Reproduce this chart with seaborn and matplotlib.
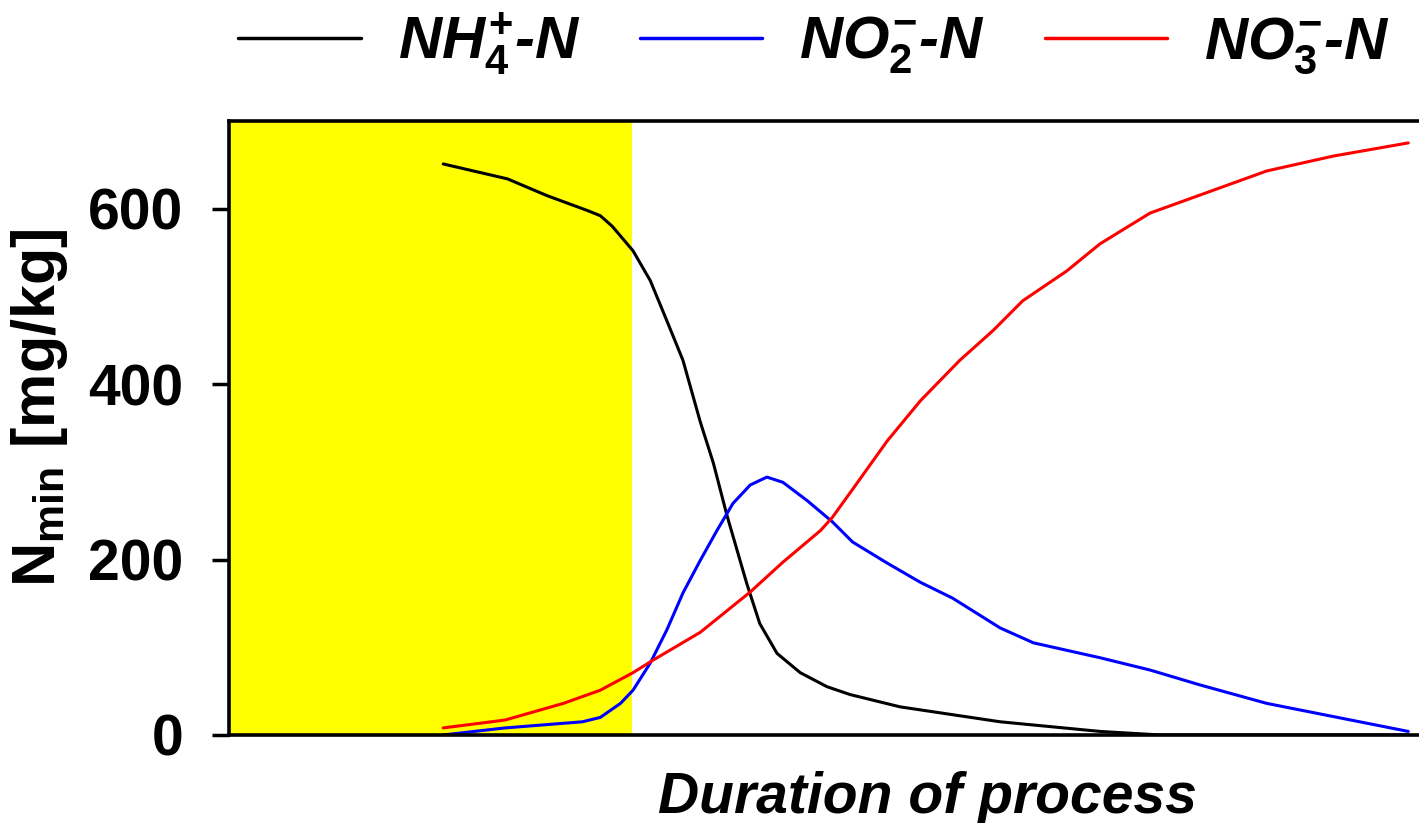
import pandas as pd
import matplotlib.pyplot as plt
import seaborn as sns

# Datos (duración en unidades relativas 0-100).
x_nh4 = [18.0, 23.4, 26.7, 30.1, 31.2, 32.2, 33.95, 35.4, 36.8, 38.15, 39.6, 40.7, 41.85, 43.5, 44.6, 46.05, 48.0, 50.25, 52.2, 56.4, 64.8, 73.2, 78.2, 99.1]
y_nh4 = [651, 634, 615, 598, 592, 580, 552, 518, 472, 427, 357, 310, 250, 173, 127, 93, 71, 55, 46, 32, 15, 4, 0, 0]

x_no2 = [18.0, 23.2, 29.7, 31.2, 32.9, 33.95, 35.4, 36.8, 38.15, 39.6, 41.0, 42.35, 43.8, 45.2, 46.55, 48.6, 50.7, 52.4, 55.3, 58.1, 60.8, 64.8, 67.6, 73.2, 77.4, 81.6, 87.2, 99.1]
y_no2 = [0, 8, 15, 20, 36, 51, 82, 120, 162, 199, 233, 264, 285, 294, 288, 267, 243, 220, 196, 174, 156, 122, 105, 88, 74, 57, 36, 4]

x_no3 = [18.0, 23.2, 28.1, 31.2, 33.95, 35.6, 39.6, 43.8, 46.55, 49.7, 50.7, 52.4, 55.3, 58.1, 61.4, 64.2, 66.7, 70.4, 73.2, 77.4, 87.2, 92.8, 99.1]
y_no3 = [8, 17, 36, 51, 71, 85, 117, 163, 197, 233, 248, 280, 335, 381, 427, 461, 495, 529, 560, 595, 643, 660, 675]

series = [r'$NH_4^{+}$-N', r'$NO_2^{-}$-N', r'$NO_3^{-}$-N']
colores = ['black', '#0000ff', '#ff0000']
fase_inicial = (0, 33.9)

df = pd.concat([
    pd.DataFrame({'t': x_nh4, 'v': y_nh4, 'serie': series[0]}),
    pd.DataFrame({'t': x_no2, 'v': y_no2, 'serie': series[1]}),
    pd.DataFrame({'t': x_no3, 'v': y_no3, 'serie': series[2]}),
])

sns.set_theme(style='white')
plt.rcParams['font.family'] = ['Liberation Sans', 'DejaVu Sans']
plt.rcParams['font.weight'] = 'bold'
plt.rcParams['text.color'] = 'black'
plt.rcParams['axes.labelcolor'] = 'black'
plt.rcParams['ytick.color'] = 'black'
plt.rcParams['mathtext.fontset'] = 'custom'
plt.rcParams['mathtext.rm'] = 'Liberation Sans:bold'
plt.rcParams['mathtext.it'] = 'Liberation Sans:bold:italic'
plt.rcParams['mathtext.bf'] = 'Liberation Sans:bold'

fig = plt.figure(figsize=(14.19, 8.23), dpi=100)
ax = fig.add_axes([0.1614, 0.107, 0.8386, 0.746])

ax.axvspan(*fase_inicial, color='#ffff00', lw=0, zorder=0)
sns.lineplot(data=df, x='t', y='v', hue='serie', palette=colores, sort=False,
             linewidth=2.2, legend=False, ax=ax)

ax.set_xlim(0, 100)
ax.set_ylim(0, 700)
ax.set_yticks([0, 200, 400, 600])
ax.set_xticks([])
ax.tick_params(axis='y', direction='out', length=12, width=2.5, left=True,
               labelsize=41, pad=21, colors='black')
for lab in ax.get_yticklabels():
    lab.set_fontweight('bold')

for lado in ['left', 'top', 'bottom']:
    ax.spines[lado].set_color('black')
    ax.spines[lado].set_linewidth(2.6)
ax.spines['right'].set_visible(False)

ax.set_ylabel(r'$\mathrm{N}_{\mathrm{min}}$ [mg/kg]', fontsize=44, fontweight='bold')
ax.yaxis.set_label_coords(-0.134, 0.533)

ax.set_xlabel('Duration of process', fontsize=41, fontweight='bold', fontstyle='italic')
ax.xaxis.set_label_coords(0.587, -0.058)
ax.xaxis.label.set_verticalalignment('top')

handles = [plt.Line2D([], [], color=c, lw=2.5) for c in colores]
fig.legend(handles, series, loc='center', bbox_to_anchor=(814 / 1419, 0.947),
           ncol=3, frameon=False, handlelength=2.05, handletextpad=0.62,
           columnspacing=1.0, borderpad=0,
           prop={'family': 'Liberation Sans', 'weight': 'bold', 'style': 'italic', 'size': 43})

fig.savefig('out.png', dpi=100)
